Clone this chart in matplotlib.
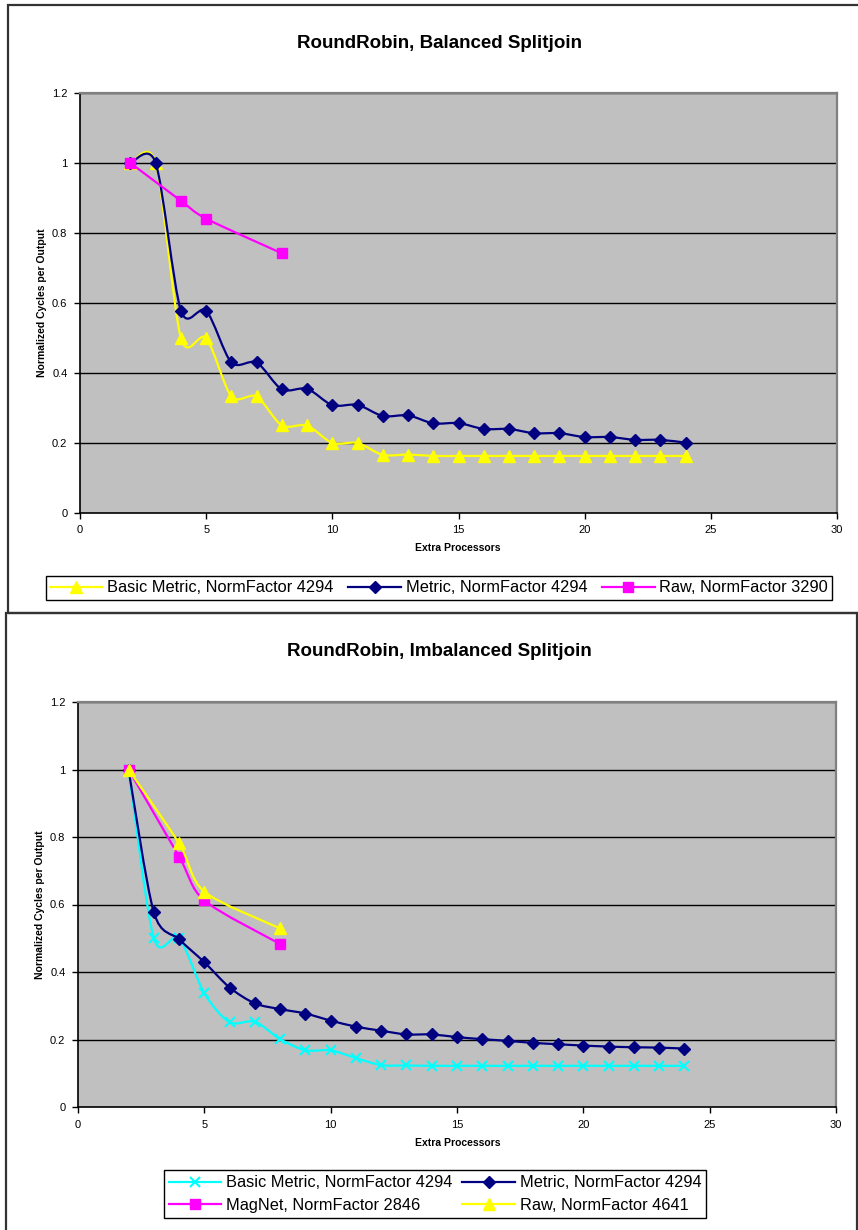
import numpy as np
import matplotlib
matplotlib.use("Agg")
import matplotlib.pyplot as plt
from matplotlib.path import Path
from matplotlib.patches import PathPatch, Rectangle
from matplotlib.lines import Line2D

plt.rcParams['font.family'] = ['Liberation Sans', 'DejaVu Sans']

# ---------------- data ----------------
# Chart 1: RoundRobin, Balanced Splitjoin
b_x = list(range(2, 25))
b_basic = [1.0, 1.0, 0.5, 0.5, 0.333, 0.333, 0.25, 0.25, 0.2, 0.2, 0.166, 0.167,
           0.163, 0.163, 0.163, 0.163, 0.163, 0.163, 0.163, 0.163, 0.163, 0.163, 0.163]
b_metric = [1.0, 1.0, 0.578, 0.578, 0.430, 0.430, 0.353, 0.355, 0.308, 0.309, 0.277, 0.279,
            0.256, 0.257, 0.240, 0.240, 0.228, 0.228, 0.217, 0.217, 0.209, 0.209, 0.201]
b_raw_x = [2, 4, 5, 8]
b_raw = [1.0, 0.892, 0.841, 0.742]
b_labels = ["Basic Metric, NormFactor 4294", "Metric, NormFactor 4294", "Raw, NormFactor 3290"]

# Chart 2: RoundRobin, Imbalanced Splitjoin
i_x = list(range(2, 25))
i_basic = [1.0, 0.5, 0.5, 0.337, 0.251, 0.253, 0.201, 0.168, 0.168, 0.145, 0.124, 0.123,
           0.122, 0.122, 0.122, 0.122, 0.122, 0.122, 0.122, 0.122, 0.122, 0.122, 0.122]
i_metric = [1.0, 0.577, 0.497, 0.429, 0.354, 0.307, 0.290, 0.277, 0.256, 0.238, 0.226, 0.215,
            0.215, 0.207, 0.201, 0.196, 0.190, 0.186, 0.182, 0.179, 0.177, 0.176, 0.173]
i_mag_x = [2, 4, 5, 8]
i_mag = [1.0, 0.742, 0.612, 0.483]
i_raw_x = [2, 4, 5, 8]
i_raw = [1.0, 0.781, 0.638, 0.529]
i_labels = ["Basic Metric, NormFactor 4294", "Metric, NormFactor 4294",
            "MagNet, NormFactor 2846", "Raw, NormFactor 4641"]

titles = ["RoundRobin, Balanced Splitjoin", "RoundRobin, Imbalanced Splitjoin"]
xlabel = "Extra Processors"
ylabel = "Normalized Cycles per Output"
xticks = [0, 5, 10, 15, 20, 25, 30]
yticks = [0, 0.2, 0.4, 0.6, 0.8, 1.0, 1.2]
ytick_labels = ["0", "0.2", "0.4", "0.6", "0.8", "1", "1.2"]

YELLOW = "#FFFF00"
NAVY = "#000080"
MAGENTA = "#FF00FF"
CYAN = "#00FFFF"

W, H = 858, 1230
fig = plt.figure(figsize=(W / 100, H / 100), dpi=100)
fig.patch.set_facecolor("white")


def fx(px):
    return px / W


def fy(py):
    return 1 - py / H


# panel borders
fig.add_artist(Rectangle((fx(8), fy(613)), fx(900 - 8), (613 - 5) / H, transform=fig.transFigure,
                         fill=False, edgecolor="#333333", linewidth=1.6, clip_on=False))
fig.add_artist(Rectangle((fx(6), fy(1240)), fx(857 - 6), (1240 - 613) / H, transform=fig.transFigure,
                         fill=False, edgecolor="#333333", linewidth=1.6, clip_on=False))


def smooth_path(xs, ys, k=7.0):
    pts = np.column_stack([xs, ys]).astype(float)
    n = len(pts)
    verts = [pts[0]]
    codes = [Path.MOVETO]
    for i in range(n - 1):
        p0 = pts[i - 1] if i > 0 else pts[i]
        p1 = pts[i]
        p2 = pts[i + 1]
        p3 = pts[i + 2] if i + 2 < n else pts[i + 1]
        c1 = p1 + (p2 - p0) / k
        c2 = p2 - (p3 - p1) / k
        verts += [c1, c2, p2]
        codes += [Path.CURVE4] * 3
    return Path(verts, codes)


def series(ax, xs, ys, color, marker, ms, z, mew=1.0):
    ax.add_patch(PathPatch(smooth_path(xs, ys), fill=False, edgecolor=color,
                           linewidth=1.6, zorder=z, clip_on=False))
    ax.plot(xs, ys, linestyle="none", marker=marker, markersize=ms, color=color,
            markeredgecolor=color, markeredgewidth=mew, zorder=z + 0.5, clip_on=False)
    return Line2D([], [], color=color, linewidth=1.6, marker=marker, markersize=ms,
                  markeredgecolor=color, markeredgewidth=mew)


def style_axes(ax, title, title_y, xlab_y, ylab_x):
    ax.set_facecolor("#C0C0C0")
    ax.set_xlim(0, 30)
    ax.set_ylim(0, 1.2)
    ax.set_xticks(xticks)
    ax.set_xticklabels([str(t) for t in xticks])
    ax.set_yticks(yticks)
    ax.set_yticklabels(ytick_labels)
    ax.tick_params(direction="out", length=4, width=1, labelsize=8, colors="black", pad=5)
    for y in yticks[1:]:
        ax.axhline(y, color="#000000", linewidth=1.0, zorder=1)
    for s in ["top", "right"]:
        ax.spines[s].set_color("#808080")
        ax.spines[s].set_linewidth(1.6)
    for s in ["left", "bottom"]:
        ax.spines[s].set_color("black")
        ax.spines[s].set_linewidth(1.2)
    fig.text(fx(439), fy(title_y), title, ha="center", va="center", fontsize=13.5, fontweight="bold")
    fig.text(fx(458), fy(xlab_y), xlabel, ha="center", va="center", fontsize=7.5, fontweight="bold")
    pos = ax.get_position()
    fig.text(fx(ylab_x), (pos.y0 + pos.y1) / 2, ylabel, ha="center", va="center", rotation=90,
             fontsize=7.5, fontweight="bold")


# ---- top chart ----
ax1 = fig.add_axes([fx(80), fy(513), fx(837 - 80), (513 - 93) / H])
h1 = series(ax1, b_x, b_basic, YELLOW, "^", 8, 3)
h2 = series(ax1, b_x, b_metric, NAVY, "D", 6, 4)
h3 = series(ax1, b_raw_x, b_raw, MAGENTA, "s", 7.5, 5)
style_axes(ax1, titles[0], 43, 548, 42)
fig.legend([h1, h2, h3], b_labels, loc="center", bbox_to_anchor=(fx(439), fy(588)), ncol=3,
           frameon=True, fancybox=False, edgecolor="black", framealpha=1, fontsize=11.8,
           handlelength=3.2, handletextpad=0.3, columnspacing=0.9, borderpad=0.25,
           borderaxespad=0)

# ---- bottom chart ----
ax2 = fig.add_axes([fx(78), fy(1107), fx(836 - 78), (1107 - 702) / H])
g1 = series(ax2, i_x, i_basic, CYAN, "x", 7, 3, mew=1.5)
g2 = series(ax2, i_x, i_metric, NAVY, "D", 6, 4)
g3 = series(ax2, i_mag_x, i_mag, MAGENTA, "s", 7.5, 5)
g4 = series(ax2, i_raw_x, i_raw, YELLOW, "^", 8, 6)
style_axes(ax2, titles[1], 651, 1143, 40)
# legend filled row-wise: matplotlib fills column-wise, so reorder
fig.legend([g1, g3, g2, g4], [i_labels[0], i_labels[2], i_labels[1], i_labels[3]],
           loc="center", bbox_to_anchor=(fx(435), fy(1194)), ncol=2,
           frameon=True, fancybox=False, edgecolor="black", framealpha=1, fontsize=11.8,
           handlelength=3.2, handletextpad=0.3, columnspacing=0.6, borderpad=0.3,
           labelspacing=0.45, borderaxespad=0)

fig.savefig("out.png", dpi=100)
